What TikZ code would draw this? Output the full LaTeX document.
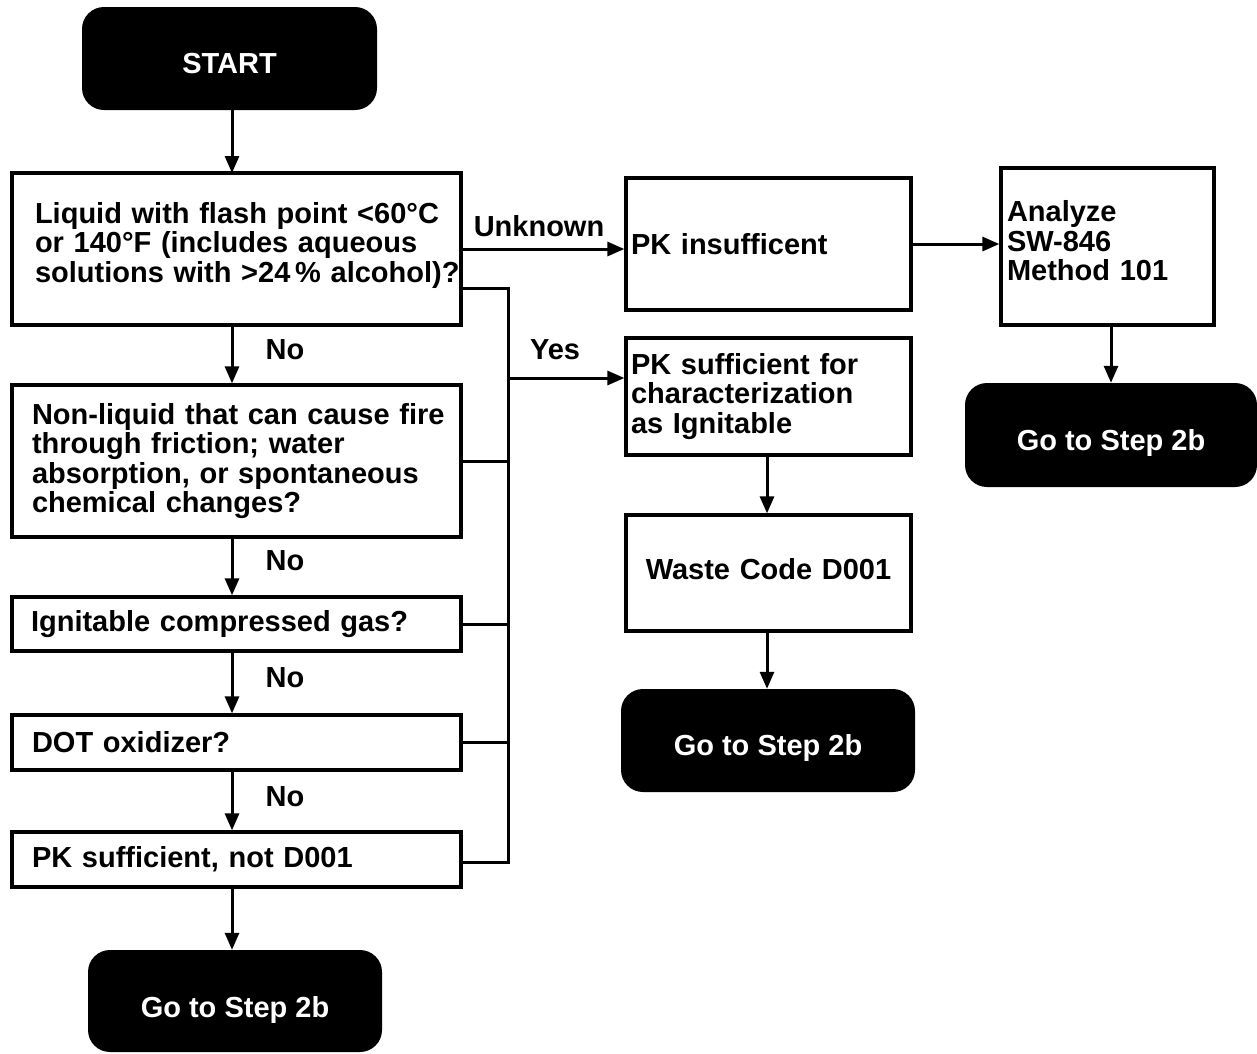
\documentclass[tikz,border=0pt]{standalone}
\usepackage{fontspec}
\setmainfont{Liberation Sans}
\usetikzlibrary{arrows.meta}
\begin{document}
\begin{tikzpicture}[x=1pt,y=-1pt,
  txt/.style={font=\fontsize{29}{29.5}\selectfont\bfseries},
  qbox/.style={txt, draw, line width=3.3pt, inner ysep=0pt, align=left},
  term/.style={txt, fill=black, text=white, rounded corners=22pt, inner sep=0pt, text depth=6pt},
  conn/.style={line width=3pt},
  arr/.style={conn, -{Triangle[length=17pt,width=14pt]}},
  lbl/.style={txt, inner sep=0pt}
]
\useasboundingbox (0,0) rectangle (1257,1053);

% terminals (labels sit a little below the middle)
\node[term, text height=35pt, minimum width=295, minimum height=103] (start) at (229.5,58.5) {START};
\node[term, text height=39pt, minimum width=294, minimum height=102] (end1) at (235,1001) {Go to Step 2b};
\node[term, text height=35pt, minimum width=294, minimum height=103] (end2) at (768,740.5) {Go to Step 2b};
\node[term, text height=37pt, minimum width=292, minimum height=104] (end3) at (1111,435) {Go to Step 2b};

% left column of questions (each line kept whole)
\node[qbox, inner xsep=23pt, text width=403, minimum height=152] (q1) at (236.5,249)
  {\mbox{Liquid with flash point <60°C}\\\mbox{or 140°F (includes aqueous}\\\mbox{solutions with >24\,\% alcohol)?}\\[-15.5pt]\mbox{}};
\node[qbox, inner xsep=20pt, text width=409, minimum height=152] (q2) at (236.5,461)
  {\mbox{Non-liquid that can cause fire}\\\mbox{through friction; water}\\\mbox{absorption, or spontaneous}\\\mbox{chemical changes?}};
\node[qbox, inner xsep=19pt, text width=411, minimum height=54] (q3) at (236.5,624)
  {\mbox{Ignitable compressed gas?}};
\node[qbox, inner xsep=20pt, text width=409, minimum height=55] (q4) at (236.5,742.5)
  {\mbox{DOT oxidizer?}};
\node[qbox, inner xsep=20pt, text width=409, minimum height=55] (q5) at (236.5,859.5)
  {\mbox{PK sufficient, not D001}};

% right-hand boxes
\node[qbox, inner xsep=5pt, text width=275, minimum height=132] (pki) at (768.5,244)
  {\mbox{PK insufficent}};
\node[qbox, inner xsep=6pt, text width=201, minimum height=157] (an) at (1107.5,246.5)
  {\mbox{Analyze}\\\mbox{SW-846}\\\mbox{Method 101}\\[-17.5pt]\mbox{}};
\node[qbox, inner xsep=5pt, text width=275, minimum height=117] (pks) at (768.5,396.5)
  {\mbox{PK sufficient for}\\\mbox{characterization}\\\mbox{as Ignitable}};
\node[qbox, inner xsep=5pt, text width=275, minimum height=116, align=center] (wc) at (768.5,573)
  {\mbox{Waste Code D001}\\[-22pt]\mbox{}};

% main column arrows
\draw[arr] (start.south -| 232,0) -- (232,173);
\draw[arr] ([xshift=-4.5pt]q1.south) -- ([xshift=-4.5pt]q2.north);
\draw[arr] ([xshift=-4.5pt]q2.south) -- ([xshift=-4.5pt]q3.north);
\draw[arr] ([xshift=-4.5pt]q3.south) -- ([xshift=-4.5pt]q4.north);
\draw[arr] ([xshift=-4.5pt]q4.south) -- ([xshift=-4.5pt]q5.north);
\draw[arr] ([xshift=-4.5pt]q5.south) -- ([xshift=-4.5pt]q5.south |- end1.north);

\node[lbl] (no1) at (285,350) {No};
\node[lbl] (no2) at (285,561) {No};
\node[lbl] (no3) at (285,678) {No};
\node[lbl] (no4) at (285,797) {No};

% "Unknown" branch
\draw[arr] (q1.east) -- (q1.east -| pki.west);
\node[lbl] (unk) at (539,226) {Unknown};
\draw[arr] (pki.east) -- (pki.east -| an.west);
\draw[arr] (end3.north |- an.south) -- (end3.north);

% "Yes" bus collecting every question
\coordinate (bt) at (508,288);
\coordinate (bb) at (508,862);
\coordinate (yj) at (508,378);
\draw[conn] (q1.east |- bt) -- (bt) -- (bb) -- (q5.east |- bb);
\draw[conn] (q2.east) -- (q2.east -| bt);
\draw[conn] (q3.east) -- (q3.east -| bt);
\draw[conn] (q4.east) -- (q4.east -| bt);
\draw[arr] (yj) -- (yj -| pks.west);
\node[lbl] (yes) at (555,350) {Yes};

\draw[arr] ([xshift=-1.5pt]pks.south) -- ([xshift=-1.5pt]wc.north);
\draw[arr] ([xshift=-1.5pt]wc.south) -- ([xshift=-1.5pt]wc.south |- end2.north);
\end{tikzpicture}
\end{document}
